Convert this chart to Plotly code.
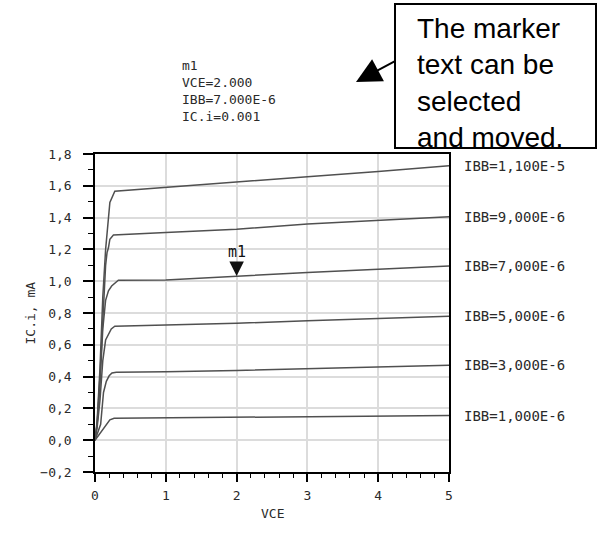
import plotly.graph_objects as go

# ---- data (VCE in V, IC in mA) ----
vce_1 = [0, 0.07, 0.14, 0.21, 0.27, 1.0, 2.0, 3.0, 4.0, 5.0]
ic_1 = [0, 0.044, 0.088, 0.128, 0.138, 0.140, 0.145, 0.147, 0.149, 0.155]

vce_3 = [0, 0.03, 0.08, 0.12, 0.16, 0.2, 0.24, 0.3, 1, 2, 3, 4, 5]
ic_3 = [0, 0.04, 0.10, 0.30, 0.37, 0.405, 0.423, 0.428, 0.430, 0.438, 0.448, 0.459, 0.472]

vce_5 = [0, 0.03, 0.07, 0.11, 0.15, 0.19, 0.23, 0.28, 1, 2, 3, 4, 5]
ic_5 = [0, 0.08, 0.25, 0.50, 0.63, 0.67, 0.70, 0.717, 0.724, 0.735, 0.752, 0.768, 0.780]

vce_7 = [0, 0.03, 0.07, 0.11, 0.15, 0.19, 0.235, 0.33, 1, 2, 3, 4, 5]
ic_7 = [0, 0.10, 0.35, 0.70, 0.88, 0.94, 0.97, 1.006, 1.008, 1.033, 1.054, 1.075, 1.096]

vce_9 = [0, 0.03, 0.07, 0.11, 0.15, 0.17, 0.19, 0.21, 0.26, 1, 2, 3, 4, 5]
ic_9 = [0, 0.10, 0.40, 0.80, 1.10, 1.18, 1.21, 1.264, 1.29, 1.306, 1.327, 1.359, 1.384, 1.405]

vce_11 = [0, 0.03, 0.07, 0.11, 0.15, 0.18, 0.19, 0.21, 0.28, 0.5, 1, 2, 3, 4, 5]
ic_11 = [0, 0.12, 0.45, 0.90, 1.20, 1.33, 1.38, 1.495, 1.566, 1.573, 1.589, 1.621, 1.657, 1.690, 1.726]

curve_labels = ["IBB=1,000E-6", "IBB=3,000E-6", "IBB=5,000E-6",
                "IBB=7,000E-6", "IBB=9,000E-6", "IBB=1,100E-5"]
curves_x = [vce_1, vce_3, vce_5, vce_7, vce_9, vce_11]
curves_y = [ic_1, ic_3, ic_5, ic_7, ic_9, ic_11]

m1_vce = 2.0
m1_ic = 1.033
marker_lines = ["m1", "VCE=2.000", "IBB=7.000E-6", "IC.i=0.001"]
note_lines = ["The marker", "text can be", "selected", "and moved."]

x_range = [0, 5]
y_range = [-0.2, 1.8]

MONO = "DejaVu Sans Mono"
LINE_COLOR = "#505050"
TEXT_COLOR = "#2a2a2a"

fig = go.Figure()
for xs, ys in zip(curves_x, curves_y):
    fig.add_trace(go.Scatter(x=xs, y=ys, mode="lines",
                             line=dict(color=LINE_COLOR, width=1.5),
                             showlegend=False, hoverinfo="skip"))

annotations = []
# right-side curve labels
for xs, ys, lab in zip(curves_x, curves_y, curve_labels):
    annotations.append(dict(x=xs[-1], y=ys[-1], xref="x", yref="y", text=lab,
                            showarrow=False, xanchor="left", yanchor="middle",
                            xshift=13, font=dict(family=MONO, size=14, color=TEXT_COLOR)))

# marker m1 on the curve
annotations.append(dict(x=m1_vce, y=m1_ic, xref="x", yref="y", text="m1",
                        showarrow=True, arrowhead=2, arrowwidth=0.5, arrowsize=5.8,
                        arrowcolor="#111111", ax=0, ay=-24, standoff=0,
                        font=dict(family=MONO, size=15, color="#111111")))

# marker readout text (one block)
annotations.append(dict(x=0, y=1, xref="paper", yref="paper",
                        text="<br>".join(marker_lines),
                        showarrow=False, xanchor="left", yanchor="top", align="left",
                        xshift=85, yshift=98,
                        font=dict(family=MONO, size=13, color=TEXT_COLOR)))

# axis titles
annotations.append(dict(x=0, y=0.5, xref="paper", yref="paper", text="IC.i, mA",
                        showarrow=False, textangle=-90, xshift=-75,
                        font=dict(family=MONO, size=13, color=TEXT_COLOR)))
annotations.append(dict(x=0.5, y=0, xref="paper", yref="paper", text="VCE",
                        showarrow=False, yshift=-51,
                        font=dict(family=MONO, size=13, color=TEXT_COLOR)))

# call-out arrow
annotations.append(dict(x=(356 - 95) / 354, y=(472 - 82) / 318, xref="paper", yref="paper",
                        text="", showarrow=True, arrowhead=2, arrowwidth=2, arrowsize=2.5,
                        arrowcolor="black", ax=41, ay=-22, standoff=0))
# call-out text (clipped by its box height)
annotations.append(dict(x=(416 - 95) / 354, y=(472 - 12) / 318, xref="paper", yref="paper",
                        text="<br>".join(note_lines), showarrow=False, xanchor="left",
                        yanchor="top", align="left", valign="top", width=178, height=134,
                        borderpad=0,
                        font=dict(family="Liberation Sans", size=28, color="black")))

shapes = [dict(type="rect", xref="paper", yref="paper",
               x0=(395 - 95) / 354, x1=(596 - 95) / 354,
               y0=(472 - 148) / 318, y1=(472 - 4) / 318,
               line=dict(color="black", width=2), fillcolor="rgba(0,0,0,0)")]

fig.update_layout(
    width=598, height=533,
    margin=dict(l=95, r=149, t=154, b=61, pad=0),
    paper_bgcolor="white", plot_bgcolor="white",
    font=dict(family=MONO, size=13, color=TEXT_COLOR),
    separators=",.",
    annotations=annotations, shapes=shapes,
    xaxis=dict(range=x_range, tick0=0, dtick=1, ticks="outside", ticklen=8,
               tickwidth=1.5, tickcolor="black", showline=True, linecolor="black",
               linewidth=1.5, mirror=True, showgrid=True, gridcolor="#dcdcdc",
               gridwidth=1.5, zeroline=False, ticklabelstandoff=3,
               tickfont=dict(family=MONO, size=13, color=TEXT_COLOR),
               minor=dict(dtick=0.2, ticks="outside", ticklen=4, tickwidth=1.2,
                          tickcolor="black", showgrid=False)),
    yaxis=dict(range=y_range, tick0=0, dtick=0.2, tickformat=".1f", ticks="outside",
               ticklen=10, tickwidth=1.5, tickcolor="black", showline=True,
               linecolor="black", linewidth=1.5, mirror=True, showgrid=True,
               gridcolor="#dcdcdc", gridwidth=1.5, zeroline=False, ticklabelstandoff=9,
               tickfont=dict(family=MONO, size=13, color=TEXT_COLOR),
               minor=dict(dtick=0.1, ticks="outside", ticklen=5, tickwidth=1.2,
                          tickcolor="black", showgrid=False)),
)

fig.write_html("out.html")
